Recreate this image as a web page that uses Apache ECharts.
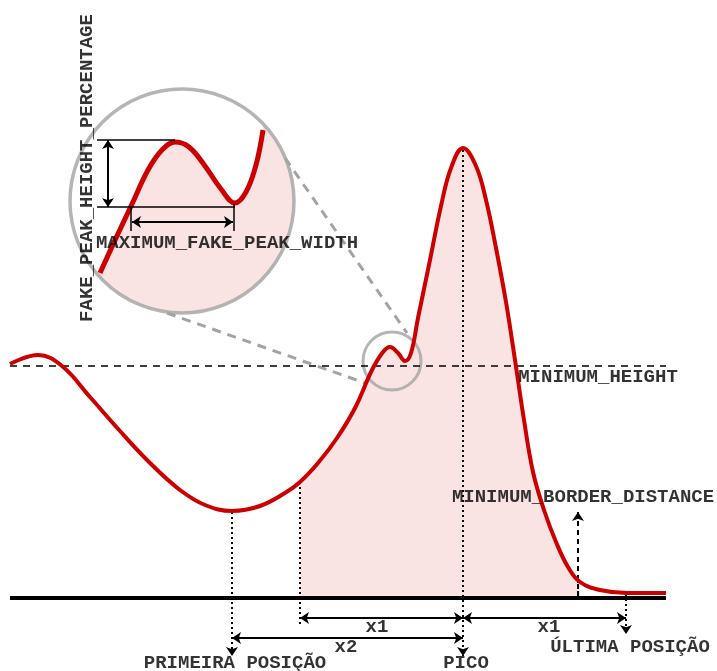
<!DOCTYPE html>
<html>
<head>
<meta charset="utf-8">
<script src="https://cdn.jsdelivr.net/npm/echarts@6/dist/echarts.min.js"></script>
<style>html,body{margin:0;padding:0;background:#fff}#c{width:717px;height:671px}</style>
</head>
<body>
<div id="c"></div>
<script>
// ---- diagram data (diagram units = canvas-like units, y grows downward) ----
const mainCurve = [[10,364],[38,355],[62,366],[90,397],[120,431],[150,463],[180,490],[205,505],[232,511],[260,506],[285,493],[300,482],[318,463],[337,438],[355,408],[372,370],[383,352],[390,347],[398,353],[405,361],[411,353],[418,318],[430,260],[441,206],[451,168],[463,148],[476,166],[486,200],[496,248],[506,302],[515,360],[524,420],[533,472],[544,510],[556,542],[568,567],[580,582],[600,590],[627,593],[666,593]];
const fillFromX = 300;
const fillToX = 580;
const insetCurve = [[100,273],[116,238],[132,204],[148,170],[162,150],[175,142],[189,147],[205,166],[221,189],[235,203],[246,192],[256,165],[263,130]];
const insetCoverLead = [[50,310],[75,290]];
const bigCircleCenter = [[182,201]];
const smallCircleCenter = [[392,361]];
const zoomGuides = [[[285,158],[407,333]], [[167,313],[365,383]]];
const baseLine = [[10,598],[666,598]];
const minHeightLine = [[10,366],[666,366]];
const insetRefLines = [[[97,140],[175,140]], [[97,207],[235,207]]];
const insetTicks = [[[131,207],[131,231]], [[234,204],[234,231]]];
const insetHeightArrow = [[108,140],[108,207]];
const insetWidthArrow = [[132,222],[233,222]];
const dottedPlain = [[[300,482],[300,625]], [[578,581],[578,598]]];
const dottedArrowDown = [[[232,512],[232,656]], [[463,150],[463,656]], [[626,594],[626,634]]];
const borderArrowUp = [[578,598],[578,512]];
const x1Arrows = [[[300,618],[463,618]], [[463,618],[626,618]]];
const x2Arrow = [[232,638],[463,638]];
const textLabels = [
  {name:'MAXIMUM_FAKE_PEAK_WIDTH', value:[227,243]},
  {name:'MINIMUM_HEIGHT', value:[598,377]},
  {name:'MINIMUM_BORDER_DISTANCE', value:[583,497]},
  {name:'x1', value:[377,627]},
  {name:'x1', value:[549,627]},
  {name:'x2', value:[346,647]},
  {name:'ÚLTIMA POSIÇÃO', value:[630,647]},
  {name:'PRIMEIRA POSIÇÃO', value:[235,663]},
  {name:'PICO', value:[466,663]}
];
const verticalLabel = [{name:'FAKE_PEAK_HEIGHT_PERCENTAGE', value:[87,168]}];

// ---- styles ----
const RED = '#cc0000', PINK = '#f9e3e3', GRAY = '#a3a3a3';
const FONT = {fontFamily:'Liberation Mono', fontWeight:'bold', fontSize:19, color:'#000'};
const SMOOTH = 0.4;

function linesSeries(data, opts) {
  return Object.assign({
    type:'lines', coordinateSystem:'cartesian2d', silent:true, animation:false,
    polyline:false, data: data.map(c => ({coords:c})),
    symbol:['none','none'], symbolSize:9,
    lineStyle:{color:'#000', width:1.5, opacity:1, curveness:0}
  }, opts);
}

const fillCurve = mainCurve.filter(p => p[0] >= fillFromX && p[0] <= fillToX);

const chart = echarts.init(document.getElementById('c'), null, {renderer:'canvas'});
chart.setOption({
  animation:false,
  backgroundColor:'#fff',
  grid:{left:0, right:0, top:0, bottom:0},
  xAxis:{type:'value', min:0, max:717, show:false},
  yAxis:{type:'value', min:0, max:671, inverse:true, show:false},
  series:[
    // inset pink disc
    {type:'scatter', data:bigCircleCenter, symbol:'circle', symbolSize:224, z:1, silent:true,
     itemStyle:{color:PINK, opacity:1}},
    // white cover above inset curve
    {type:'line', data:insetCoverLead.concat(insetCurve), smooth:SMOOTH, symbol:'none', z:2, silent:true,
     lineStyle:{width:0, opacity:0}, areaStyle:{color:'#fff', opacity:1, origin:'start'}},
    // main pink fill
    {type:'line', data:fillCurve, smooth:SMOOTH, symbol:'none', z:2, silent:true,
     lineStyle:{width:0, opacity:0}, areaStyle:{color:PINK, opacity:1, origin:598}},
    // gray circle outlines
    {type:'scatter', data:bigCircleCenter, symbol:'circle', symbolSize:224, z:4, silent:true,
     itemStyle:{color:'rgba(0,0,0,0)', borderColor:GRAY, borderWidth:3.5}},
    {type:'scatter', data:smallCircleCenter, symbol:'circle', symbolSize:58, z:4, silent:true,
     itemStyle:{color:'rgba(0,0,0,0)', borderColor:GRAY, borderWidth:3}},
    linesSeries(zoomGuides, {z:4, lineStyle:{color:GRAY, width:3, type:[9,7], opacity:1}}),
    // baseline & minimum height
    linesSeries([baseLine], {z:5, lineStyle:{color:'#000', width:4, opacity:1}}),
    linesSeries([minHeightLine], {z:5, lineStyle:{color:'#000', width:1.5, type:[7,6], opacity:1}}),
    // dotted guides
    linesSeries(dottedPlain, {z:5, lineStyle:{color:'#000', width:2, type:[2,3], opacity:1}}),
    linesSeries(dottedArrowDown, {z:5, symbol:['none','arrow'], symbolSize:9, lineStyle:{color:'#000', width:2, type:[2,3], opacity:1}}),
    linesSeries([borderArrowUp], {z:5, symbol:['none','arrow'], symbolSize:9, lineStyle:{color:'#000', width:2, type:[5,4], opacity:1}}),
    // measurement arrows
    linesSeries(x1Arrows, {z:5, symbol:['arrow','arrow'], symbolSize:9, lineStyle:{color:'#000', width:2, opacity:1}}),
    linesSeries([x2Arrow], {z:5, symbol:['arrow','arrow'], symbolSize:9, lineStyle:{color:'#000', width:2, opacity:1}}),
    // inset annotations
    linesSeries(insetRefLines, {z:7, lineStyle:{color:'#000', width:1.5, opacity:1}}),
    linesSeries(insetTicks, {z:7, lineStyle:{color:'#000', width:1.5, opacity:1}}),
    linesSeries([insetHeightArrow], {z:7, symbol:['arrow','arrow'], symbolSize:9, lineStyle:{color:'#000', width:2, opacity:1}}),
    linesSeries([insetWidthArrow], {z:7, symbol:['arrow','arrow'], symbolSize:9, lineStyle:{color:'#000', width:2, opacity:1}}),
    // red curves
    {type:'line', data:mainCurve, smooth:SMOOTH, symbol:'none', z:6, silent:true,
     lineStyle:{color:RED, width:4}},
    {type:'line', data:insetCurve, smooth:SMOOTH, symbol:'none', z:6, silent:true,
     lineStyle:{color:RED, width:5, cap:'butt'}},
    // text
    {type:'scatter', data:textLabels, symbolSize:0, z:10, silent:true,
     label:{show:true, position:'inside', formatter:p=>p.name, ...FONT}},
    {type:'scatter', data:verticalLabel, symbolSize:0, z:10, silent:true,
     label:{show:true, position:'inside', rotate:90, formatter:p=>p.name, ...FONT}}
  ]
});
</script>
</body>
</html>
